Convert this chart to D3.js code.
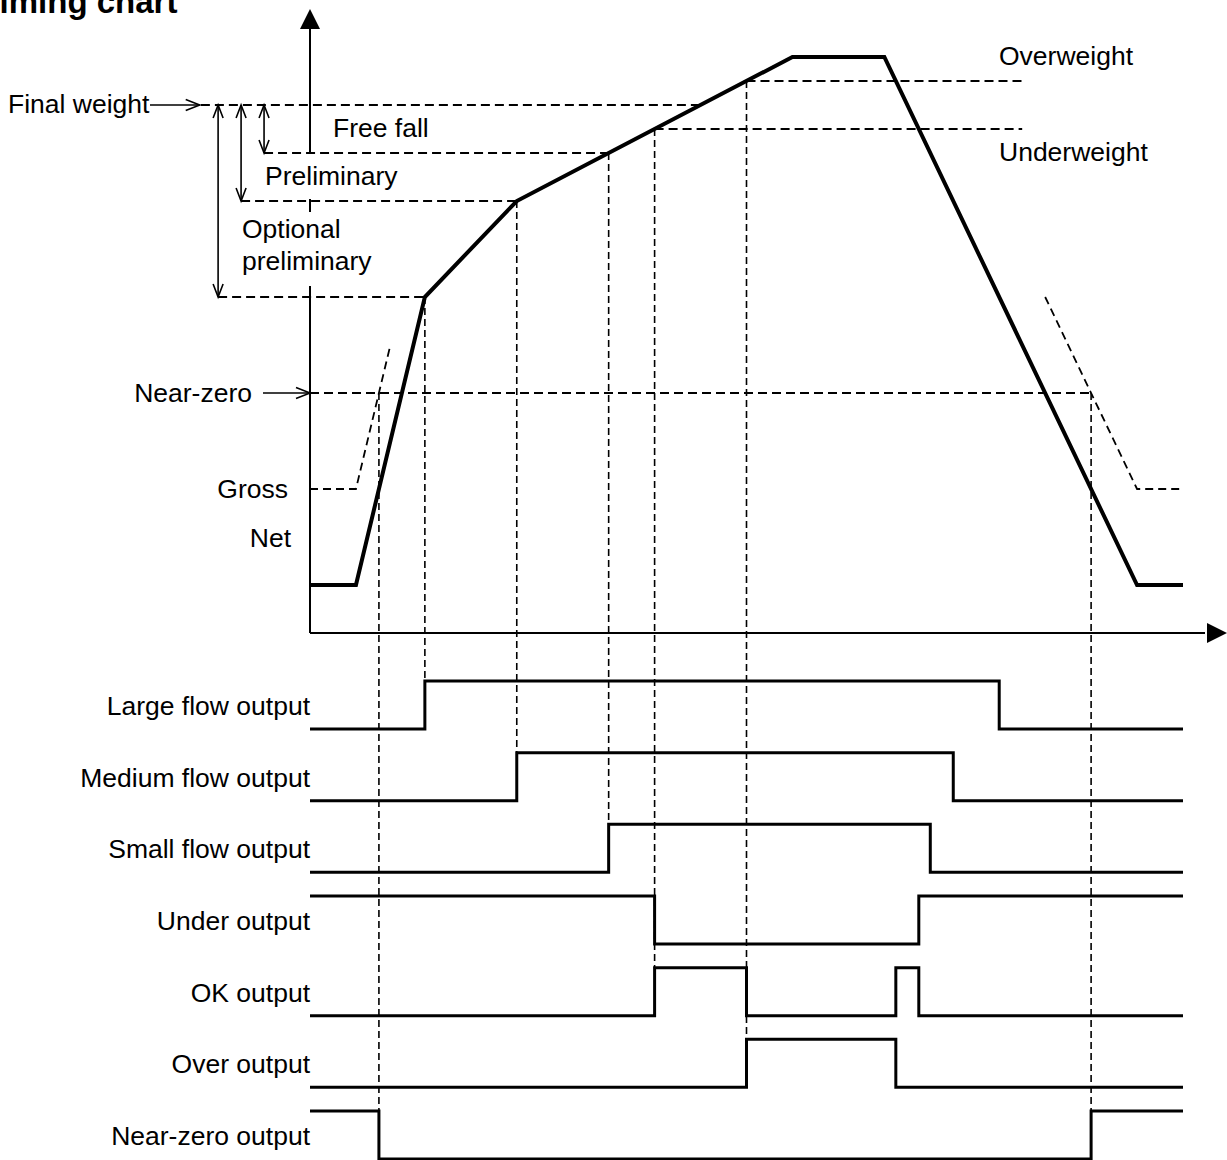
<!DOCTYPE html>
<html>
<head>
<meta charset="utf-8">
<script src="https://cdn.jsdelivr.net/npm/d3@7"></script>
<style>
	html, body { margin: 0; padding: 0; background: #fff; }
	svg { display: block; }
	text { font-family: "Liberation Sans", Arial, sans-serif; font-size: 26.5px; fill: #000; }
</style>
</head>
<body>
<svg id="chart"></svg>
<script>
// weight profile (net), time in cycle units, weight in % of scale
const netTimes = [0, 4, 10, 18, 42, 50, 72, 76];
const netWeights = [8, 8, 56, 72, 96, 96, 8, 8];

// gross curve, only the pieces that show
const grossLeftTimes = [0, 4, 7];
const grossLeftWeights = [24, 24, 48];
const grossRightTimes = [64, 72, 76];
const grossRightWeights = [56, 24, 24];

// setpoints (dashed horizontals)
const setpointNames = ["Final weight", "Free fall", "Preliminary", "Optional preliminary", "Near-zero", "Overweight", "Underweight"];
const setpointWeights = [88, 80, 72, 56, 40, 92, 84];
const setpointFrom = [-9.5, -4, -6, -8, 0, 38, 30];
const setpointTo = [34, 26, 18, 10, 68, 62, 62];

// double arrows from final weight down to a setpoint
const spanTimes = [-8, -6, -4];
const spanWeights = [56, 72, 80];

// outputs
const signalNames = ["Large flow output", "Medium flow output", "Small flow output", "Under output", "OK output", "Over output", "Near-zero output"];
const signalInitial = [0, 0, 0, 1, 0, 0, 1];
const signalEdges = [[10, 60], [18, 56], [26, 54], [30, 53], [30, 38, 51, 53], [38, 51], [6, 68]];

// vertical guides: time, weight where it starts, output row where it ends
const guideTimes = [6, 10, 18, 26, 30, 38, 68];
const guideWeights = [40, 56, 72, 80, 84, 92, 40];
const guideRows = [6, 0, 1, 2, 4, 5, 6];

function TimingChart() {
	this.selection = function (selection) {
		this._selection = selection;
		return this;
	};

	this.size = function (size) {
		this._size = size;
		this._selection.attr("width", size.w).attr("height", size.h);
		return this;
	};

	this.scales = function () {
		this._x = d3.scaleLinear().domain([0, 76]).range([310, 1183]);
		this._y = d3.scaleLinear().domain([0, 100]).range([633, 33]);
		this._row = d3.scalePoint().domain(signalNames).range([729, 1159]);
		this._levelH = 48;
		return this;
	};

	this.openHead = function (g, x, y, dir) {
		// dir: "r", "d", "u"
		let p;
		if (dir === "r") p = [[x - 14, y - 5.5], [x, y], [x - 14, y + 5.5]];
		if (dir === "d") p = [[x - 5, y - 13], [x, y], [x + 5, y - 13]];
		if (dir === "u") p = [[x - 5, y + 13], [x, y], [x + 5, y + 13]];
		g.append("path")
			.attr("d", d3.line()(p))
			.attr("fill", "none")
			.attr("stroke", "#000")
			.attr("stroke-width", 1.6);
	};

	this.drawAxes = function () {
		let x = this._x, y = this._y;
		let g = this._selection.append("g").classed("axes", true);
		g.append("line")
			.attr("x1", x(0)).attr("x2", x(0))
			.attr("y1", y(0)).attr("y2", 26)
			.attr("stroke", "#000").attr("stroke-width", 2);
		g.append("path")
			.attr("d", `M${x(0) - 10},29L${x(0)},9L${x(0) + 10},29Z`)
			.attr("fill", "#000");
		g.append("line")
			.attr("x1", x(0)).attr("x2", this._size.w - 22)
			.attr("y1", y(0)).attr("y2", y(0))
			.attr("stroke", "#000").attr("stroke-width", 2);
		g.append("path")
			.attr("d", `M${this._size.w - 20},${y(0) - 10}L${this._size.w},${y(0)}L${this._size.w - 20},${y(0) + 10}Z`)
			.attr("fill", "#000");

		// label boxes hide the axis behind them
		g.append("rect").attr("x", 250).attr("y", 154).attr("width", 150).attr("height", 45).attr("fill", "#fff");
		g.append("rect").attr("x", 236).attr("y", 212).attr("width", 145).attr("height", 74).attr("fill", "#fff");
	};

	this.drawSetpoints = function () {
		let x = this._x, y = this._y;
		let g = this._selection.append("g").classed("setpoints", true);
		g.selectAll("line")
			.data(setpointNames)
			.join("line")
			.attr("x1", (d, i) => x(setpointFrom[i]))
			.attr("x2", (d, i) => x(setpointTo[i]))
			.attr("y1", (d, i) => y(setpointWeights[i]))
			.attr("y2", (d, i) => y(setpointWeights[i]))
			.attr("stroke", "#000")
			.attr("stroke-width", 2)
			.attr("stroke-dasharray", "9,5");

		let gross = d3.line().x((d) => x(d[0])).y((d) => y(d[1]));
		[
			[grossLeftTimes, grossLeftWeights],
			[grossRightTimes, grossRightWeights],
		].forEach(([ts, ws]) => {
			g.append("path")
				.attr("d", gross(ts.map((t, i) => [t, ws[i]])))
				.attr("fill", "none")
				.attr("stroke", "#000")
				.attr("stroke-width", 1.8)
				.attr("stroke-dasharray", "8,5");
		});

		// span arrows
		let top = y(setpointWeights[0]);
		spanTimes.forEach((t, i) => {
			let bx = x(t), by = y(spanWeights[i]);
			g.append("line")
				.attr("x1", bx).attr("x2", bx)
				.attr("y1", top).attr("y2", by)
				.attr("stroke", "#000").attr("stroke-width", 1.6);
			this.openHead(g, bx, top, "u");
			this.openHead(g, bx, by, "d");
		});

		// pointer arrows for final weight and near-zero
		g.append("line").attr("x1", 150).attr("x2", x(-9.6)).attr("y1", top).attr("y2", top)
			.attr("stroke", "#000").attr("stroke-width", 1.6);
		this.openHead(g, x(-9.6), top, "r");
		let nz = y(setpointWeights[4]);
		g.append("line").attr("x1", 263).attr("x2", x(0)).attr("y1", nz).attr("y2", nz)
			.attr("stroke", "#000").attr("stroke-width", 1.6);
		this.openHead(g, x(0), nz, "r");
	};

	this.drawGuides = function () {
		let x = this._x, y = this._y, row = this._row, h = this._levelH;
		this._selection
			.append("g")
			.classed("guides", true)
			.selectAll("line")
			.data(guideTimes)
			.join("line")
			.attr("x1", (d) => x(d))
			.attr("x2", (d) => x(d))
			.attr("y1", (d, i) => y(guideWeights[i]))
			.attr("y2", (d, i) => row(signalNames[guideRows[i]]) - h)
			.attr("stroke", "#000")
			.attr("stroke-width", 1.6)
			.attr("stroke-dasharray", "7,4");
	};

	this.drawWeight = function () {
		let x = this._x, y = this._y;
		this._selection
			.append("path")
			.attr("d", d3.line().x((d) => x(d[0])).y((d) => y(d[1]))(netTimes.map((t, i) => [t, netWeights[i]])))
			.attr("fill", "none")
			.attr("stroke", "#000")
			.attr("stroke-width", 4)
			.attr("stroke-linejoin", "miter");
	};

	this.drawSignals = function () {
		let x = this._x, row = this._row, h = this._levelH;
		let g = this._selection.append("g").classed("signals", true);
		signalNames.forEach((name, i) => {
			let low = row(name);
			let level = signalInitial[i];
			let pts = [[0, level]];
			signalEdges[i].forEach((t) => {
				pts.push([t, level]);
				level = 1 - level;
				pts.push([t, level]);
			});
			pts.push([76, level]);
			g.append("path")
				.attr("d", d3.line().x((d) => x(d[0])).y((d) => low - d[1] * h)(pts))
				.attr("fill", "none")
				.attr("stroke", "#000")
				.attr("stroke-width", 3);
			g.append("text")
				.attr("x", x(0))
				.attr("y", low - 14)
				.attr("text-anchor", "end")
				.text(name);
		});
	};

	this.drawLabels = function () {
		let g = this._selection.append("g").classed("labels", true);
		let labels = [
			["Final weight", 8, 113, "start"],
			["Free fall", 333, 137, "start"],
			["Preliminary", 265, 185, "start"],
			["Optional", 242, 238, "start"],
			["preliminary", 242, 270, "start"],
			["Near-zero", 252, 402, "end"],
			["Gross", 288, 498, "end"],
			["Net", 291, 547, "end"],
			["Overweight", 999, 65, "start"],
			["Underweight", 999, 161, "start"],
		];
		g.selectAll("text")
			.data(labels)
			.join("text")
			.attr("x", (d) => d[1])
			.attr("y", (d) => d[2])
			.attr("text-anchor", (d) => d[3])
			.text((d) => d[0]);

		this._selection
			.append("text")
			.attr("x", -20)
			.attr("y", 13)
			.style("font-size", "33px")
			.style("font-weight", "bold")
			.text("Timing chart");
	};

	this.draw = function () {
		this.drawAxes();
		this.drawSetpoints();
		this.drawGuides();
		this.drawWeight();
		this.drawSignals();
		this.drawLabels();
	};
}

new TimingChart()
	.selection(d3.select("#chart"))
	.size({ w: 1227, h: 1160 })
	.scales()
	.draw();
</script>
</body>
</html>
